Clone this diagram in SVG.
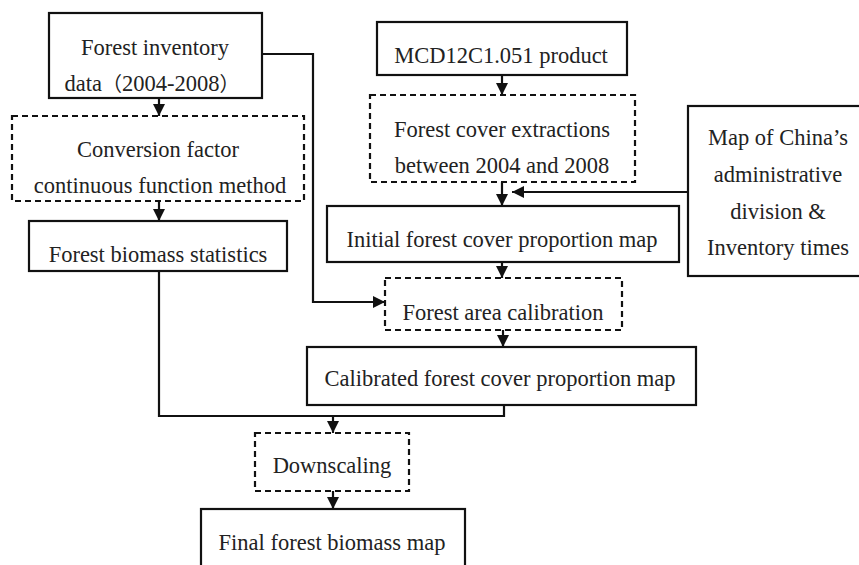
<svg xmlns="http://www.w3.org/2000/svg" width="859" height="565" viewBox="0 0 859 565">
<defs>
<style>
.box{fill:#fff;stroke:#111;stroke-width:2.2}
.dash{fill:#fff;stroke:#111;stroke-width:2.2;stroke-dasharray:6,4}
.t{font-family:'Liberation Serif','DejaVu Serif',serif;font-size:22.5px;fill:#222;text-anchor:middle}
.cjk{font-family:'Noto Sans CJK SC',sans-serif;font-size:20px}
.c{fill:none;stroke:#111;stroke-width:2.2}
</style>
<marker id="ah" viewBox="0 0 12 12" markerUnits="userSpaceOnUse" markerWidth="12" markerHeight="12" refX="12" refY="6" orient="auto">
<path d="M0,0 L12,6 L0,12 z" fill="#111"/>
</marker>
</defs>
<rect width="859" height="565" fill="#fff"/>
<g id="connectors">
<path class="c" d="M159,98 V116" marker-end="url(#ah)"/>
<path class="c" d="M159,201 V221" marker-end="url(#ah)"/>
<path class="c" d="M262,54 H313 V302 H385" marker-end="url(#ah)"/>
<path class="c" d="M502,75 V95" marker-end="url(#ah)"/>
<path class="c" d="M502,182 V206" marker-end="url(#ah)"/>
<path class="c" d="M688,192 H512" marker-end="url(#ah)"/>
<path class="c" d="M502,262 V278" marker-end="url(#ah)"/>
<path class="c" d="M503,330 V347" marker-end="url(#ah)"/>
<path class="c" d="M159,271 V416 H504 V405"/>
<path class="c" d="M333,416 V433" marker-end="url(#ah)"/>
<path class="c" d="M333,491 V509" marker-end="url(#ah)"/>
</g>
<g id="n1">
<rect class="box" x="49" y="13" width="213" height="85"/>
<text class="t" x="155" y="55">Forest inventory</text>
<text class="t" x="152" y="91">data<tspan class="cjk">（</tspan>2004-2008<tspan class="cjk">）</tspan></text>
</g>
<g id="n2">
<rect class="dash" x="12" y="116" width="292" height="85"/>
<text class="t" x="158" y="157">Conversion factor</text>
<text class="t" x="160" y="193">continuous function method</text>
</g>
<g id="n3">
<rect class="box" x="29" y="221" width="258" height="50"/>
<text class="t" x="158" y="262">Forest biomass statistics</text>
</g>
<g id="n4">
<rect class="box" x="377" y="22" width="250" height="53"/>
<text class="t" x="501" y="63">MCD12C1.051 product</text>
</g>
<g id="n5">
<rect class="dash" x="370" y="95" width="265" height="87"/>
<text class="t" x="502" y="137">Forest cover extractions</text>
<text class="t" x="502" y="173">between 2004 and 2008</text>
</g>
<g id="n6">
<rect class="box" x="688" y="106" width="190" height="170"/>
<text class="t" x="778" y="145">Map of China’s</text>
<text class="t" x="778" y="182">administrative</text>
<text class="t" x="778" y="219">division &amp;</text>
<text class="t" x="778" y="255">Inventory times</text>
</g>
<g id="n7">
<rect class="box" x="327" y="206" width="352" height="56"/>
<text class="t" x="502" y="247">Initial forest cover proportion map</text>
</g>
<g id="n8">
<rect class="dash" x="385" y="278" width="237" height="52"/>
<text class="t" x="503" y="320">Forest area calibration</text>
</g>
<g id="n9">
<rect class="box" x="307" y="347" width="389" height="58"/>
<text class="t" x="500" y="386">Calibrated forest cover proportion map</text>
</g>
<g id="n10">
<rect class="dash" x="255" y="433" width="154" height="58"/>
<text class="t" x="332" y="473">Downscaling</text>
</g>
<g id="n11">
<rect class="box" x="201" y="509" width="264" height="70"/>
<text class="t" x="332" y="550">Final forest biomass map</text>
</g>
</svg>
